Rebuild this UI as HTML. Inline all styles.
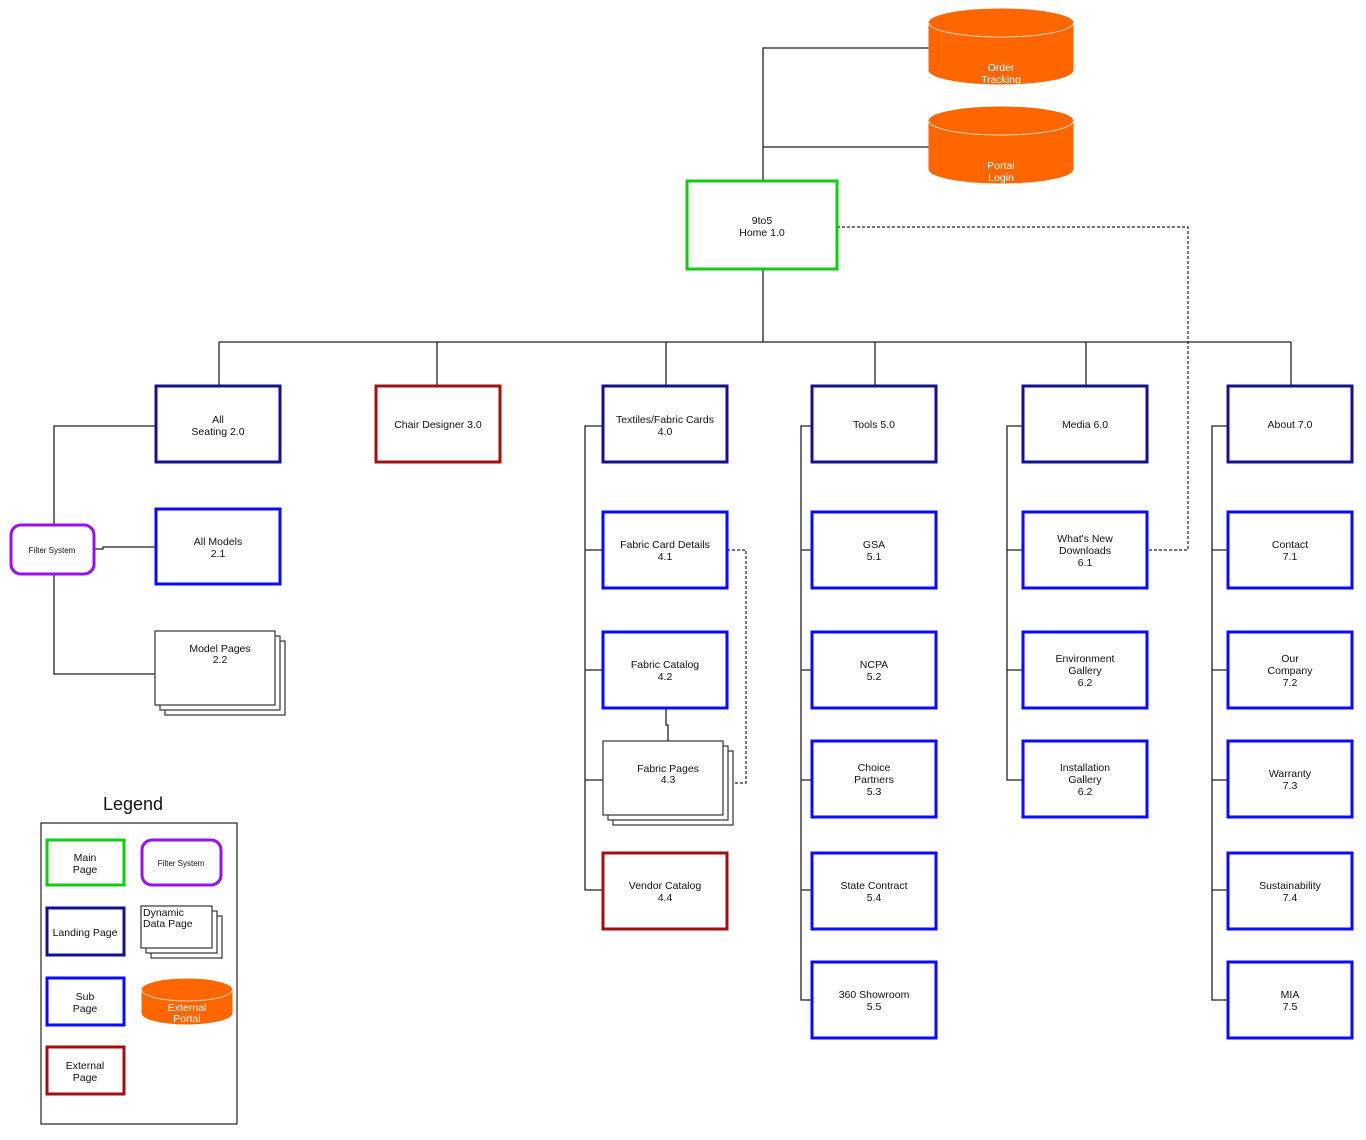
<!DOCTYPE html>
<html><head><meta charset="utf-8"><style>
html,body{margin:0;padding:0;background:#fff;}
svg{display:block;}
text{font-family:"Liberation Sans",Arial,sans-serif;font-size:10.5px;fill:#111;text-anchor:middle;}
.w{fill:#fff;}
</style></head><body>
<svg width="1366" height="1140" viewBox="0 0 1366 1140" xmlns="http://www.w3.org/2000/svg">
<g fill="none" stroke="#222" stroke-width="1.3">
<!-- top -->
<path d="M763 181V48H929M763 147H929M763 269V342M219 342H1291M219 342V386M437 342V386M666 342V386M875 342V386M1086 342V386M1291 342V386"/>
<!-- seating -->
<path d="M156 426H54V525M54 574V674H155M94 549H103V547H156"/>
<!-- textiles -->
<path d="M603 426H585V890H603M585 550H603M585 670H603M585 780H603M666 708V725H668V741"/>
<!-- tools -->
<path d="M812 426H801V1000H812M801 550H812M801 670H812M801 780H812M801 890H812"/>
<!-- media -->
<path d="M1023 426H1007V780H1023M1007 550H1023M1007 670H1023"/>
<!-- about -->
<path d="M1228 426H1212V1000H1228M1212 550H1228M1212 670H1228M1212 780H1228M1212 890H1228"/>
</g>
<g fill="none" stroke="#222" stroke-width="1.2" stroke-dasharray="3,2">
<path d="M837 227H1188V550H1147M727 550H746V783H733"/>
</g>
<!-- cylinders -->
<g fill="#ff6600" stroke="#ff6600">
<path d="M929 23V70A72 14 0 0 0 1073 70V23Z"/><ellipse cx="1001" cy="23" rx="72" ry="14"/>
<path d="M929 121V169A72 14 0 0 0 1073 169V121Z"/><ellipse cx="1001" cy="121" rx="72" ry="14"/>
<path d="M142 990V1013A45 11 0 0 0 232 1013V990Z"/><ellipse cx="187" cy="990" rx="45" ry="11"/>
</g>
<g fill="none" stroke="#ffd0b0" stroke-width="1">
<path d="M929 23A72 14 0 0 0 1073 23M929 121A72 14 0 0 0 1073 121M142 990A45 11 0 0 0 232 990"/>
</g>
<text class="w" x="1001" y="71">Order</text><text class="w" x="1001" y="83">Tracking</text>
<text class="w" x="1001" y="169">Portal</text><text class="w" x="1001" y="181">Login</text>
<text class="w" x="187" y="1011">External</text><text class="w" x="187" y="1022">Portal</text>
<!-- boxes -->
<g fill="#fff" stroke-width="3">
<rect x="687" y="181" width="150" height="88" stroke="#11cc11"/>
<g stroke="#121290">
<rect x="156" y="386" width="124" height="76"/><rect x="603" y="386" width="124" height="76"/>
<rect x="812" y="386" width="124" height="76"/><rect x="1023" y="386" width="124" height="76"/>
<rect x="1228" y="386" width="124" height="76"/>
<rect x="47" y="908" width="77" height="47"/>
</g>
<g stroke="#a01010">
<rect x="376" y="386" width="124" height="76"/><rect x="603" y="853" width="124" height="76"/>
<rect x="47" y="1047" width="77" height="47"/>
</g>
<g stroke="#0a0aff">
<rect x="156" y="509" width="124" height="75"/>
<rect x="603" y="512" width="124" height="76"/><rect x="603" y="632" width="124" height="76"/>
<rect x="812" y="512" width="124" height="76"/><rect x="812" y="632" width="124" height="76"/>
<rect x="812" y="741" width="124" height="76"/><rect x="812" y="853" width="124" height="76"/>
<rect x="812" y="962" width="124" height="76"/>
<rect x="1023" y="512" width="124" height="76"/><rect x="1023" y="632" width="124" height="76"/>
<rect x="1023" y="741" width="124" height="76"/>
<rect x="1228" y="512" width="124" height="76"/><rect x="1228" y="632" width="124" height="76"/>
<rect x="1228" y="741" width="124" height="76"/><rect x="1228" y="853" width="124" height="76"/>
<rect x="1228" y="962" width="124" height="76"/>
<rect x="47" y="978" width="77" height="47"/>
</g>
<rect x="47" y="840" width="77" height="45" stroke="#11cc11"/>
<g stroke="#9910ee"><rect x="11" y="525" width="83" height="49" rx="10"/><rect x="142" y="840" width="79" height="45" rx="10"/></g>
</g>
<!-- stacks -->
<g fill="#fff" stroke="#333" stroke-width="1.2">
<rect x="165" y="641" width="120" height="74"/><rect x="160" y="636" width="120" height="74"/><rect x="155" y="631" width="120" height="74"/>
<rect x="613" y="751" width="120" height="74"/><rect x="608" y="746" width="120" height="74"/><rect x="603" y="741" width="120" height="74"/>
<rect x="151" y="916" width="71" height="42"/><rect x="146" y="911" width="71" height="42"/><rect x="141" y="906" width="71" height="42"/>
</g>
<rect x="41" y="823" width="196" height="301" fill="none" stroke="#222" stroke-width="1.2"/>
<text x="133" y="810" style="font-size:18px">Legend</text>
<!-- labels -->
<text x="762" y="224">9to5</text><text x="762" y="236">Home 1.0</text>
<text x="218" y="423">All</text><text x="218" y="435">Seating 2.0</text>
<text x="438" y="428">Chair Designer 3.0</text>
<text x="665" y="423">Textiles/Fabric Cards</text><text x="665" y="435">4.0</text>
<text x="874" y="428">Tools 5.0</text>
<text x="1085" y="428">Media 6.0</text>
<text x="1290" y="428">About 7.0</text>
<text x="52" y="553" style="font-size:8px">Filter System</text>
<text x="218" y="545">All Models</text><text x="218" y="557">2.1</text>
<text x="220" y="652">Model Pages</text><text x="220" y="663">2.2</text>
<text x="665" y="548">Fabric Card Details</text><text x="665" y="560">4.1</text>
<text x="665" y="668">Fabric Catalog</text><text x="665" y="680">4.2</text>
<text x="668" y="772">Fabric Pages</text><text x="668" y="783">4.3</text>
<text x="665" y="889">Vendor Catalog</text><text x="665" y="901">4.4</text>
<text x="874" y="548">GSA</text><text x="874" y="560">5.1</text>
<text x="874" y="668">NCPA</text><text x="874" y="680">5.2</text>
<text x="874" y="771">Choice</text><text x="874" y="783">Partners</text><text x="874" y="795">5.3</text>
<text x="874" y="889">State Contract</text><text x="874" y="901">5.4</text>
<text x="874" y="998">360 Showroom</text><text x="874" y="1010">5.5</text>
<text x="1085" y="542">What's New</text><text x="1085" y="554">Downloads</text><text x="1085" y="566">6.1</text>
<text x="1085" y="662">Environment</text><text x="1085" y="674">Gallery</text><text x="1085" y="686">6.2</text>
<text x="1085" y="771">Installation</text><text x="1085" y="783">Gallery</text><text x="1085" y="795">6.2</text>
<text x="1290" y="548">Contact</text><text x="1290" y="560">7.1</text>
<text x="1290" y="662">Our</text><text x="1290" y="674">Company</text><text x="1290" y="686">7.2</text>
<text x="1290" y="777">Warranty</text><text x="1290" y="789">7.3</text>
<text x="1290" y="889">Sustainability</text><text x="1290" y="901">7.4</text>
<text x="1290" y="998">MIA</text><text x="1290" y="1010">7.5</text>
<text x="85" y="861">Main</text><text x="85" y="873">Page</text>
<text x="181" y="866" style="font-size:8px">Filter System</text>
<text x="85" y="936">Landing Page</text>
<text x="143" y="916" style="text-anchor:start">Dynamic</text><text x="143" y="927" style="text-anchor:start">Data Page</text>
<text x="85" y="1000">Sub</text><text x="85" y="1012">Page</text>
<text x="85" y="1069">External</text><text x="85" y="1081">Page</text>
</svg>
</body></html>
